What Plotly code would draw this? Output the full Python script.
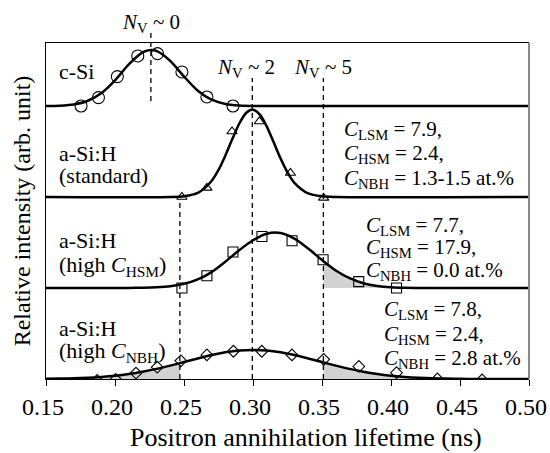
import numpy as np
import plotly.graph_objects as go

# ---------------- data ----------------
# fitted curves (lifetime ns, relative height above each panel's baseline)
cx1 = [0.15, 0.16, 0.17, 0.18, 0.19, 0.20, 0.21, 0.22, 0.225, 0.23, 0.24, 0.25, 0.26, 0.27, 0.28, 0.29, 0.30, 0.31, 0.50]
cy1 = [0, 0.004, 0.017, 0.055, 0.139, 0.282, 0.457, 0.589, 0.614, 0.605, 0.496, 0.324, 0.168, 0.070, 0.023, 0.006, 0.001, 0, 0]

cx2 = [0.15, 0.24, 0.25, 0.26, 0.27, 0.275, 0.28, 0.285, 0.29, 0.295, 0.30, 0.305, 0.31, 0.315, 0.32, 0.325, 0.33, 0.34, 0.35, 0.36, 0.50]
cy2 = [0, 0, 0.008, 0.045, 0.176, 0.297, 0.457, 0.636, 0.805, 0.923, 0.96, 0.905, 0.774, 0.601, 0.422, 0.270, 0.156, 0.039, 0.007, 0, 0]

cx3 = [0.15, 0.20, 0.21, 0.22, 0.23, 0.24, 0.25, 0.26, 0.27, 0.28, 0.29, 0.30, 0.31, 0.32, 0.33, 0.34, 0.35, 0.36, 0.37, 0.38, 0.39, 0.40, 0.41, 0.42, 0.43, 0.50]
cy3 = [0, 0, 0.001, 0.003, 0.008, 0.020, 0.046, 0.095, 0.175, 0.290, 0.415, 0.525, 0.597, 0.604, 0.543, 0.433, 0.307, 0.193, 0.108, 0.053, 0.023, 0.009, 0.003, 0.001, 0, 0]

cx4 = [0.15, 0.16, 0.17, 0.18, 0.19, 0.20, 0.21, 0.22, 0.23, 0.24, 0.25, 0.26, 0.27, 0.28, 0.29, 0.30,
       0.31, 0.32, 0.33, 0.34, 0.35, 0.36, 0.37, 0.38, 0.39, 0.40, 0.41, 0.42, 0.43, 0.44, 0.45, 0.46,
       0.47, 0.48, 0.49, 0.50]
cy4 = [0.002, 0.005, 0.008, 0.014, 0.023, 0.036, 0.055, 0.080, 0.111, 0.147, 0.186, 0.226, 0.263, 0.293, 0.313, 0.320,
       0.313, 0.293, 0.263, 0.226, 0.186, 0.147, 0.111, 0.080, 0.055, 0.036, 0.023, 0.014, 0.008, 0.005, 0.002, 0.001,
       0, 0, 0, 0]

# measured points
m1x = [0.1754, 0.1880, 0.2017, 0.2165, 0.2308, 0.2485, 0.2666, 0.2855]
m1y = [0, 0.092, 0.323, 0.550, 0.576, 0.374, 0.099, 0]
m2x = [0.2485, 0.2666, 0.2848, 0.3046, 0.3271, 0.3512]
m2y = [0, 0.10, 0.72, 0.83, 0.264, -0.01]
m3x = [0.2485, 0.2666, 0.2855, 0.3065, 0.3283, 0.3508, 0.3766, 0.4040]
m3y = [0, 0.135, 0.395, 0.566, 0.520, 0.310, 0.070, 0]
m4x = [0.1871, 0.2005, 0.2152, 0.2306, 0.2477, 0.2666, 0.2858, 0.3064, 0.3282, 0.3512, 0.3767, 0.4040, 0.4336, 0.4660]
m4y = [-0.015, -0.005, 0.065, 0.130, 0.200, 0.265, 0.305, 0.305, 0.265, 0.216, 0.138, 0.069, 0, -0.01]

# vacancy-size markers (lifetime ns)
nv_labels = ["0", "2", "5"]
nv_x = [0.226, 0.2995, 0.351]
cut_left = 0.247          # lower integration limit (dashed line)

# tick labels
x_ticks = [0.15, 0.20, 0.25, 0.30, 0.35, 0.40, 0.45, 0.50]

sample_names = ["c-Si", "a-Si:H<br>(standard)", "a-Si:H<br>(high <i>C</i><sub>HSM</sub>)", "a-Si:H<br>(high <i>C</i><sub>NBH</sub>)"]
c_lsm = ["7.9", "7.7", "7.8"]
c_hsm = ["2.4", "17.9", "2.4"]
c_nbh = ["1.3-1.5", "0.0", "2.8"]

# ---------------- layout constants ----------------
W, H = 550, 453
L, R, T, B = 46, 21, 43, 74
PW, PH = W - L - R, H - T - B
offsets = [3, 2, 1, 0]
y_top = PH / 91.0
FONT = "Liberation Serif"


def px(xp):
    return (xp - L) / PW


def py(yp):
    return (H - B - yp) / PH


fig = go.Figure()

curves = [(cx1, cy1), (cx2, cy2), (cx3, cy3), (cx4, cy4)]
marks = [(m1x, m1y, "circle-open", 12), (m2x, m2y, "triangle-up-open", 9),
         (m3x, m3y, "square-open", 10), (m4x, m4y, "diamond-open", 9)]

# shaded tails
fills = {2: [(nv_x[2], x_ticks[-1])], 3: [(x_ticks[0], cut_left), (nv_x[2], x_ticks[-1])]}
for i, regions in fills.items():
    cx, cy = curves[i]
    base = offsets[i]
    for lo, hi in regions:
        xs = [lo] + [x for x in cx if lo < x < hi] + [hi]
        ys = list(np.interp(xs, cx, cy) + base)
        fig.add_trace(go.Scatter(x=xs + [hi, lo], y=ys + [base, base], mode="lines", fill="toself",
                                 fillcolor="#d2d2d2", line=dict(width=0), hoverinfo="skip",
                                 showlegend=False))

for i, (cx, cy) in enumerate(curves):
    fig.add_trace(go.Scatter(x=cx, y=[v + offsets[i] for v in cy], mode="lines",
                             line=dict(color="black", width=2.5, shape="spline", smoothing=0.8),
                             showlegend=False))

for i, (mx, my, sym, sz) in enumerate(marks):
    fig.add_trace(go.Scatter(x=mx, y=[v + offsets[i] for v in my], mode="markers",
                             marker=dict(symbol=sym, size=sz, color="black", line=dict(width=1.1, color="black")),
                             showlegend=False))

shapes = []
dash = "5px,4px"
# N_V ~ 0 line (inside top panel only)
shapes.append(dict(type="line", xref="x", yref="paper", x0=nv_x[0], x1=nv_x[0], y0=py(101), y1=py(31),
                   line=dict(color="black", width=1.3, dash=dash)))
for xv in nv_x[1:]:
    shapes.append(dict(type="line", xref="x", yref="paper", x0=xv, x1=xv, y0=0, y1=py(78),
                       line=dict(color="black", width=1.3, dash=dash)))
shapes.append(dict(type="line", xref="x", yref="paper", x0=cut_left, x1=cut_left, y0=0, y1=py(200),
                   line=dict(color="black", width=1.3, dash=dash)))
# right frame (grey)
shapes.append(dict(type="line", xref="paper", yref="paper", x0=1, x1=1, y0=0, y1=1,
                   line=dict(color="#888888", width=2)))

ann = []
# N_V labels
nv_pos = [(150.5, 22.7), (245.5, 68.3), (323, 68.3)]
for lab, (xp, yp) in zip(nv_labels, nv_pos):
    ann.append(dict(text=f"<i>N</i><sub>V</sub> ~ {lab}", xref="paper", yref="paper", x=px(xp), y=py(yp),
                    xanchor="center", yanchor="middle", showarrow=False, font=dict(size=21)))

# sample names
name_pos = [[(71.5,)], [(153,), (175,)], [(240,), (266,)], [(328,), (352,)]]
for name, poss in zip(sample_names, name_pos):
    parts = name.split("<br>")
    for part, (yp,) in zip(parts, poss):
        ann.append(dict(text=part, xref="paper", yref="paper", x=px(57), y=py(yp), xanchor="left",
                        yanchor="middle", showarrow=False, font=dict(size=22)))

# composition blocks
block_pos = [(342, [130, 154, 179]), (364, [226, 248, 271]), (382, [310, 335, 359])]
for k, (xp, ys) in enumerate(block_pos):
    lines = [f"<i>C</i><sub>LSM</sub> = {c_lsm[k]},",
             f"<i>C</i><sub>HSM</sub> = {c_hsm[k]},",
             f"<i>C</i><sub>NBH</sub> = {c_nbh[k]} at.%"]
    for line, yp in zip(lines, ys):
        ann.append(dict(text=line, xref="paper", yref="paper", x=px(xp), y=py(yp), xanchor="left",
                        yanchor="middle", showarrow=False, font=dict(size=21)))

# x-axis title
ann.append(dict(text="Positron annihilation lifetime (ns)", xref="paper", yref="paper", x=px(306), y=py(437),
                xanchor="center", yanchor="middle", showarrow=False, font=dict(size=26)))

fig.update_layout(
    width=W, height=H,
    margin=dict(l=L, r=R, t=T, b=B),
    paper_bgcolor="white", plot_bgcolor="white",
    font=dict(family=FONT, color="black"),
    shapes=shapes, annotations=ann,
    xaxis=dict(range=[x_ticks[0], x_ticks[-1]], tickvals=x_ticks, ticktext=[f"{v:.2f}" for v in x_ticks],
               ticks="outside", ticklen=6, tickcolor="black", showline=True, linecolor="black", linewidth=1,
               mirror=True, showgrid=False, zeroline=False, tickfont=dict(size=24),
               ticklabeloverflow="allow", ticklabelshift=-3,
               automargin=False),
    yaxis=dict(range=[0, y_top], showticklabels=False, ticks="", showline=True, linecolor="black",
               linewidth=1, showgrid=False, zeroline=False,
               title=dict(text="Relative intensity (arb. unit)", font=dict(size=24), standoff=7),
               automargin=False),
)

fig.write_html("out.html", config={"displayModeBar": False},
               post_script="document.body.style.margin='0px';document.body.style.padding='0px';")
